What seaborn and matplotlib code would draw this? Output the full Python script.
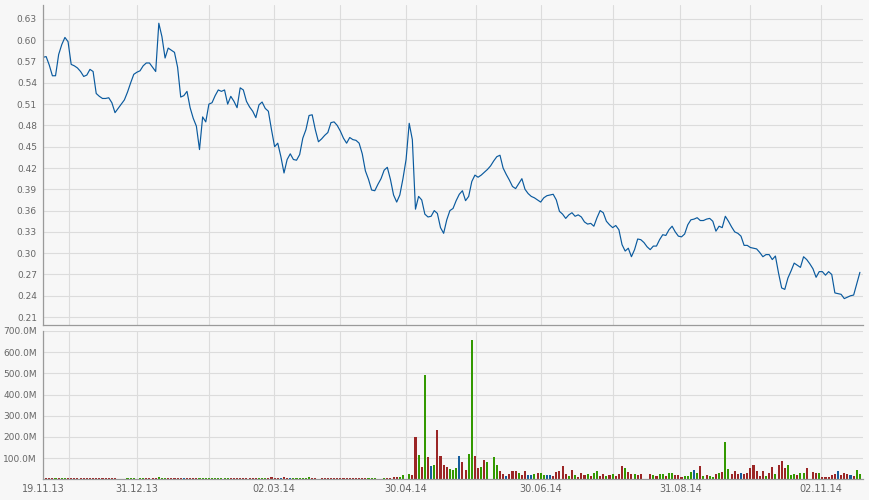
import numpy as np
import pandas as pd
import matplotlib
matplotlib.use("Agg")
import matplotlib.pyplot as plt
import seaborn as sns

# ---------------- data ----------------
start_date = "2013-11-19"
n_days = 262

price = [
    0.576, 0.577, 0.565, 0.550, 0.550, 0.580, 0.594, 0.604, 0.598, 0.566,
    0.564, 0.561, 0.556, 0.549, 0.551, 0.559, 0.556, 0.525, 0.521, 0.518,
    0.518, 0.519, 0.512, 0.498, 0.504, 0.510, 0.516, 0.527, 0.540, 0.552,
    0.555, 0.557, 0.564, 0.568, 0.568, 0.562, 0.556, 0.624, 0.605, 0.575,
    0.589, 0.586, 0.583, 0.562, 0.520, 0.522, 0.528, 0.505, 0.490, 0.479,
    0.446, 0.492, 0.485, 0.510, 0.512, 0.522, 0.530, 0.528, 0.530, 0.510,
    0.521, 0.514, 0.505, 0.533, 0.530, 0.514, 0.506, 0.500, 0.491, 0.509,
    0.513, 0.504, 0.500, 0.474, 0.450, 0.455, 0.436, 0.413, 0.432, 0.440,
    0.432, 0.431, 0.439, 0.462, 0.474, 0.494, 0.495, 0.474, 0.457, 0.461,
    0.466, 0.470, 0.484, 0.485, 0.480, 0.472, 0.462, 0.455, 0.463, 0.460,
    0.459, 0.455, 0.440, 0.416, 0.404, 0.389, 0.388, 0.397, 0.405, 0.417,
    0.421, 0.404, 0.382, 0.372, 0.382, 0.405, 0.432, 0.483, 0.460, 0.362,
    0.380, 0.375, 0.355, 0.351, 0.352, 0.360, 0.356, 0.336, 0.328, 0.347,
    0.360, 0.363, 0.374, 0.383, 0.388, 0.374, 0.380, 0.401, 0.410, 0.407,
    0.410, 0.414, 0.418, 0.423, 0.430, 0.436, 0.438, 0.420, 0.411, 0.403,
    0.394, 0.391, 0.398, 0.405, 0.390, 0.384, 0.380, 0.378, 0.375, 0.372,
    0.378, 0.381, 0.382, 0.383, 0.375, 0.359, 0.355, 0.349, 0.354, 0.357,
    0.352, 0.354, 0.351, 0.344, 0.341, 0.342, 0.338, 0.350, 0.360, 0.357,
    0.345, 0.340, 0.336, 0.339, 0.333, 0.312, 0.303, 0.307, 0.295, 0.305,
    0.320, 0.319, 0.315, 0.309, 0.305, 0.310, 0.310, 0.319, 0.326, 0.325,
    0.333, 0.338, 0.330, 0.324, 0.323, 0.327, 0.340, 0.347, 0.348, 0.350,
    0.346, 0.346, 0.348, 0.349, 0.345, 0.331, 0.338, 0.336, 0.352, 0.345,
    0.337, 0.330, 0.328, 0.324, 0.311, 0.311, 0.308, 0.307, 0.306, 0.301,
    0.295, 0.298, 0.298, 0.291, 0.296, 0.272, 0.251, 0.249, 0.265, 0.275,
    0.286, 0.283, 0.280, 0.295, 0.291, 0.285, 0.278, 0.266, 0.274, 0.274,
    0.269, 0.274, 0.270, 0.244, 0.243, 0.242, 0.236, 0.238, 0.240, 0.241,
    0.257, 0.273,
]

# volume in millions
volume_m = [
    5, 5, 5, 5, 5, 5, 5, 5, 5, 5,
    5, 5, 5, 5, 5, 5, 5, 5, 5, 5, 5, 5, 5, 5,
    0, 0, 0,
    5, 5, 5, 0, 5, 5, 5, 5, 5, 5,
    11,
    5, 5, 5, 5, 5, 5, 5,
    5,
    5, 5, 5, 5,
    5, 5, 5, 5, 5, 5, 5, 5, 5, 5,
    5, 5, 5, 5, 5, 5, 5, 5, 5,
    5, 5, 5,
    5, 11,
    5, 5, 5,
    10, 5,
    5,
    5, 5, 5, 5, 5, 11,
    5, 5, 0,
    5, 5, 5, 5, 5, 5, 5, 5, 5, 5, 5, 5, 5, 5, 5,
    5, 5, 5,
    0, 0,
    # 109 -
    6, 5, 5, 9, 9, 9, 20, 0, 25, 20,
    202, 115, 57, 492, 105, 63, 68, 233, 110, 68,
    60, 47, 44, 52, 110, 80, 44, 120, 659, 110,
    52, 58, 91, 82, 0, 105, 69, 41, 25, 16,
    27, 39, 39, 31, 22, 39, 22, 22, 25, 31,
    31, 20, 20, 20, 17, 36, 39, 63, 24, 17,
    44, 20, 13, 31, 20, 25, 16, 31, 39,
    # 178 -
    16, 25, 16, 20, 25, 16, 25, 62, 53, 34,
    25, 25, 20, 25, 0, 0, 25, 20, 16, 25,
    25, 16, 29, 29, 20, 20, 11, 16, 16, 34,
    43, 29, 62, 16, 20, 16, 11, 25, 29, 34,
    174, 48, 25, 39, 25, 29, 25, 29, 53, 67,
    39, 16, 39, 16, 29, 57, 25, 67, 85, 53,
    67, 20, 25, 20, 29, 29, 53, 0, 34, 29,
    29, 11, 11, 11, 20, 25, 39, 20, 29, 25,
    20, 16, 43, 25,
]

# bar colour code: g = up, r = down, b = unchanged
volume_dir = (
    "rrrrgrggrr" "rrrrrrrrrrrrrr" "rrr" "gggrggrrrr" "g" "ggrrrrr" "b" "rrrr"
    "gggggggggg" "rrrrrrrrr" "ggg" "rr" "rrb" "rr" "b" "gggggg" "rrr"
    "rrrrrrrrrrrrrrr" "ggg" "rr"
    "grrrrggggr" "rgrgrbgrrr" "rgggbrrggr" "rgrggggrrb" "rrrgrrbbgr"
    "ggbbrrrrrg" "rgrrrgrgg"
    "rrgrgrrrgr" "rgrrrrrgrg" "grggrrrggg" "bgrgrggrgr" "ggrrrbrrrr"
    "rrrgrrgrrr" "gggrggrrrr" "grrrrrbrrr" "brgg"
)

price_ticks = [0.21, 0.24, 0.27, 0.30, 0.33, 0.36, 0.39, 0.42, 0.45, 0.48,
               0.51, 0.54, 0.57, 0.60, 0.63]
volume_ticks_m = [100, 200, 300, 400, 500, 600, 700]
label_dates = ["19.11.13", "31.12.13", "02.03.14", "30.04.14", "30.06.14",
               "31.08.14", "02.11.14"]
grid_dates = ["30.11.13", "31.01.14", "01.04.14", "31.05.14", "31.07.14",
              "01.10.14"]

# ---------------- build frames ----------------
dates = pd.bdate_range(start_date, periods=n_days)
idx = np.arange(n_days)
df = pd.DataFrame({"idx": idx, "price": price,
                   "vol": np.array(volume_m) * 1e6,
                   "dir": list(volume_dir)})

def date_pos(s):
    d = pd.to_datetime(s, format="%d.%m.%y")
    return float(np.interp(d.value, dates.values.astype("int64"), idx))

label_pos = [date_pos(s) for s in label_dates]
grid_pos = [date_pos(s) for s in grid_dates]

# ---------------- style ----------------
sns.set_theme(style="white")
plt.rcParams["font.family"] = ["DejaVu Sans"]
bg = "#f7f7f7"
grid_c = "#dcdcdc"
spine_c = "#9a9a9a"
text_c = "#666666"
fs = 6.5

fig = plt.figure(figsize=(8.7, 5.0), dpi=100, facecolor=bg)
ax_p = fig.add_axes([0.0489, 0.35, 0.9431, 0.64])
ax_v = fig.add_axes([0.0489, 0.0414, 0.9431, 0.2966], sharex=ax_p)

for ax in (ax_p, ax_v):
    ax.set_facecolor(bg)
    for s in ("top", "right"):
        ax.spines[s].set_visible(False)
    for s in ("left", "bottom"):
        ax.spines[s].set_color(spine_c)
        ax.spines[s].set_linewidth(0.9)
    ax.set_axisbelow(True)

# price line
sns.lineplot(data=df, x="idx", y="price", ax=ax_p, color="#0a5a9e",
             linewidth=0.85, estimator=None)

# volume bars
palette = {"g": "#339900", "r": "#9b2626", "b": "#155d9c"}
sns.barplot(data=df, x="idx", y="vol", hue="dir", palette=palette,
            native_scale=True, dodge=False, width=0.66, errorbar=None,
            legend=False, ax=ax_v, linewidth=0, saturation=1,
            antialiased=False)

ax_p.set_xlim(-0.15, 262.0)
ax_p.set_ylim(0.1988, 0.6497)
ax_v.set_ylim(0, 700e6)

# y ticks
ax_p.set_yticks(price_ticks)
ax_p.set_yticklabels([f"{t:.2f}" for t in price_ticks])
ax_v.set_yticks([t * 1e6 for t in volume_ticks_m])
ax_v.set_yticklabels([f"{t:.1f}M" for t in volume_ticks_m])

# x ticks
for ax in (ax_p, ax_v):
    ax.set_xticks(label_pos)
    ax.set_xticks(grid_pos, minor=True)
    ax.grid(True, which="both", axis="x", color=grid_c, linewidth=0.8)
    ax.grid(True, which="major", axis="y", color=grid_c, linewidth=0.8)
    ax.tick_params(axis="x", which="minor", length=0)
    ax.tick_params(axis="y", which="major", length=2.5, width=0.8,
                   color=spine_c, pad=1.5, labelsize=fs, labelcolor=text_c)
    ax.set_xlabel("")
    ax.set_ylabel("")

ax_v.set_xticklabels(label_dates)
ax_v.tick_params(axis="x", which="major", length=2, width=0.8, color=spine_c,
                 pad=1.5, labelsize=fs + 0.5, labelcolor=text_c)
ax_p.tick_params(axis="x", which="major", length=0, labelbottom=False)

fig.savefig("out.png", dpi=100, facecolor=bg)
